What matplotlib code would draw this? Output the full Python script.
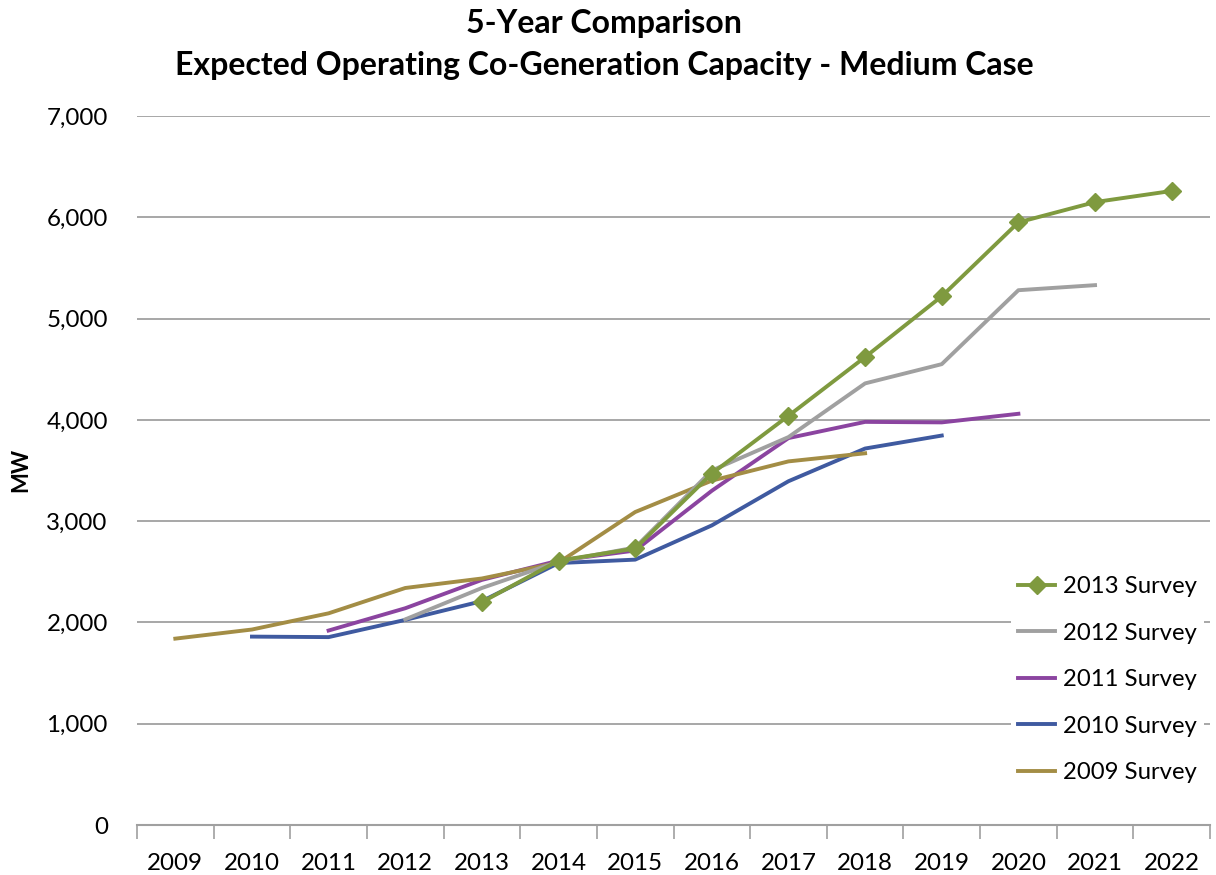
import matplotlib
matplotlib.use("Agg")
import matplotlib.pyplot as plt
import matplotlib.ticker as mticker
import numpy as np

years = ["2009", "2010", "2011", "2012", "2013", "2014", "2015", "2016",
         "2017", "2018", "2019", "2020", "2021", "2022"]
nan = np.nan
s2013 = [nan, nan, nan, nan, 2200, 2610, 2730, 3470, 4040, 4620, 5220, 5950, 6150, 6260]
s2012 = [nan, nan, nan, 2030, 2340, 2600, 2740, 3500, 3830, 4360, 4550, 5280, 5330, nan]
s2011 = [nan, nan, 1920, 2140, 2420, 2610, 2710, 3300, 3820, 3980, 3975, 4060, nan, nan]
s2010 = [nan, 1860, 1855, 2025, 2210, 2586, 2620, 2958, 3394, 3717, 3845, nan, nan, nan]
s2009 = [1840, 1930, 2090, 2340, 2434, 2590, 3090, 3400, 3590, 3670, nan, nan, nan, nan]

title1 = "5-Year Comparison"
title2 = "Expected Operating Co-Generation Capacity - Medium Case"

plt.rcParams['font.family'] = ['Lato', 'DejaVu Sans']

fig = plt.figure(figsize=(12.16, 8.75), dpi=100)
renderer = fig.canvas.get_renderer()


def fit_size(text, target_px, weight='normal'):
    t = fig.text(0, 0, text, fontsize=20, fontweight=weight)
    w = t.get_window_extent(renderer).width
    t.remove()
    return 20 * target_px / w


title_fs = fit_size(title2, 861, 'bold')
tick_fs = fit_size("2009", 56)
leg_fs = fit_size("2013 Survey", 134)
mw_fs = fit_size("MW", 44, 'bold')

ax = fig.add_axes([137/1216, 1-825/875, (1210-137)/1216, (825-116)/875])

x = np.arange(len(years))
ax.plot(x, s2013, color="#7f9a3f", lw=2.8, marker="D", ms=9, label="2013 Survey", zorder=6)
ax.plot(x, s2012, color="#a0a0a0", lw=2.8, label="2012 Survey", zorder=5)
ax.plot(x, s2011, color="#8b44a0", lw=2.8, label="2011 Survey", zorder=4)
ax.plot(x, s2010, color="#3f5aa0", lw=2.8, label="2010 Survey", zorder=3)
ax.plot(x, s2009, color="#a38d45", lw=2.8, label="2009 Survey", zorder=4)

ax.set_xlim(-0.5, len(years) - 0.5)
ax.set_ylim(0, 7000)
ax.set_yticks(np.arange(0, 7001, 1000))
ax.yaxis.set_major_formatter(mticker.FuncFormatter(lambda v, p: f"{int(v):,}"))
ax.set_xticks(x)
ax.set_xticklabels(years)
ax.set_xticks(np.arange(-0.5, len(years), 1), minor=True)
ax.tick_params(axis='x', which='major', length=0, pad=20, labelsize=tick_fs)
ax.tick_params(axis='x', which='minor', length=10, color="#a0a0a0", width=1.2, direction='out')
ax.tick_params(axis='y', length=0, pad=21, labelsize=tick_fs)

ax.grid(axis='y', color="#a0a0a0", lw=1.3)
ax.set_axisbelow(True)
for s in ["left", "right", "top"]:
    ax.spines[s].set_visible(False)
ax.spines["bottom"].set_color("#a0a0a0")
ax.spines["bottom"].set_linewidth(1.5)

fig.text(21/1216, 1-470/875, "MW", rotation=90, ha='center', va='center',
         fontsize=mw_fs, fontweight='bold')

fig.text(604/1216, 1-23/875, title1, ha='center', va='center',
         fontsize=title_fs, fontweight='bold')
fig.text(604/1216, 1-66/875, title2, ha='center', va='center',
         fontsize=title_fs, fontweight='bold')

em = leg_fs * 100 / 72
bp = 7 / em
leg = ax.legend(loc='upper left', frameon=True, fontsize=leg_fs,
                labelspacing=1.07, handlelength=37/em,
                handletextpad=8/em, borderaxespad=0, borderpad=bp,
                facecolor='white', edgecolor='none', framealpha=1, fancybox=False)
leg.set_bbox_to_anchor((1011/1216, 1-569/875), transform=fig.transFigure)
leg.set_zorder(10)

fig.savefig("out.png", dpi=100)
